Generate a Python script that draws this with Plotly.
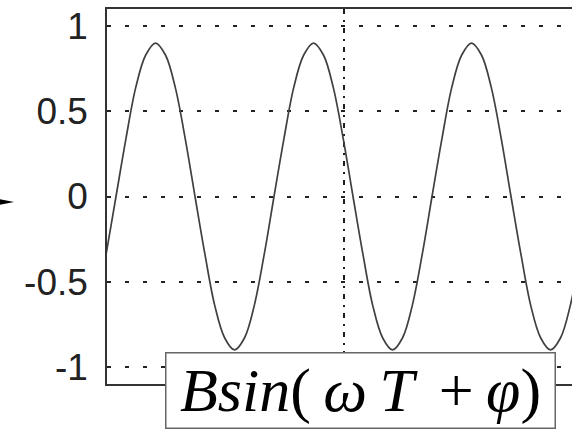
import plotly.graph_objects as go

# Sampled waveform: time in periods, normalised amplitude
t = [-0.006, 0.057, 0.120, 0.182, 0.245, 0.307, 0.370, 0.432, 0.495, 0.557, 0.620, 0.682,
     0.745, 0.807, 0.870, 0.932, 0.995,
     1.057, 1.120, 1.182, 1.245, 1.307, 1.370, 1.432, 1.495, 1.557, 1.620, 1.682,
     1.745, 1.807, 1.870, 1.932, 1.995,
     2.057, 2.120, 2.182, 2.245, 2.307, 2.370, 2.432, 2.495, 2.557, 2.620, 2.682,
     2.745, 2.807, 2.870, 2.932, 2.995]
signal = [-0.34, 0.00, 0.34, 0.64, 0.83, 0.90, 0.83, 0.64, 0.34, 0.00, -0.34, -0.64,
          -0.83, -0.90, -0.83, -0.64, -0.34,
          0.00, 0.34, 0.64, 0.83, 0.90, 0.83, 0.64, 0.34, 0.00, -0.34, -0.64,
          -0.83, -0.90, -0.83, -0.64, -0.34,
          0.00, 0.34, 0.64, 0.83, 0.90, 0.83, 0.64, 0.34, 0.00, -0.34, -0.64,
          -0.83, -0.90, -0.83, -0.64, -0.34]

y_ticks = [-1, -0.5, 0, 0.5, 1]
y_tick_labels = ["-1", "-0.5", "0", "0.5", "1"]
marker_time = [1.5]
x_range = [0, 2.943]
y_range = [-1.1, 1.1]

formula = ("<i>Bsin</i>(&#8201;<i>ω</i>&#8201;<i>T</i>&#8201;&#8201;+"
           "&#8201;<i>φ</i>)")

fig = go.Figure()
fig.add_trace(go.Scatter(
    x=t, y=signal, mode="lines",
    line=dict(color="#404040", width=1.7, shape="spline", smoothing=1.0),
    hoverinfo="skip", showlegend=False,
))

fig.update_layout(
    width=572, height=437,
    margin=dict(l=107, r=0, t=9, b=53),
    paper_bgcolor="white", plot_bgcolor="white",
    font=dict(family="Liberation Sans, Arial, sans-serif", color="#222222"),
    xaxis=dict(
        range=x_range, tickvals=marker_time, showticklabels=False, ticks="",
        showgrid=True, gridcolor="#1e1e1e", gridwidth=1.5, griddash="5px,6px,2px,6px",
        zeroline=False, showline=True, linecolor="#333333", linewidth=1.8, mirror=True,
    ),
    yaxis=dict(
        range=y_range, tickvals=y_ticks, ticktext=y_tick_labels,
        tickfont=dict(size=37, color="#222222"), ticks="", ticklabelstandoff=10,
        showgrid=True, gridcolor="#222222", gridwidth=1.6, griddash="4px,14px",
        zeroline=False, showline=True, linecolor="#333333", linewidth=1.5, mirror=False,
    ),
    shapes=[
        # pointer arrow on the left margin, aimed at the zero line
        dict(type="path", xref="paper", yref="y", xsizemode="pixel", ysizemode="pixel",
             xanchor=0, yanchor=0,
             path="M -125,1 L -93,-5.5 L -125,-12 Z",
             fillcolor="black", line=dict(width=0)),
    ],
    annotations=[
        dict(
            text=formula,
            xref="paper", yref="paper", x=0.1247, y=0.0853,
            xanchor="left", yanchor="top", showarrow=False,
            width=388, height=74, align="center", valign="middle",
            font=dict(family="Liberation Serif, Times New Roman, serif", size=62, color="black"),
            bgcolor="white", bordercolor="#666666", borderwidth=1.5, borderpad=0,
        )
    ],
)

fig.write_html("out.html")
